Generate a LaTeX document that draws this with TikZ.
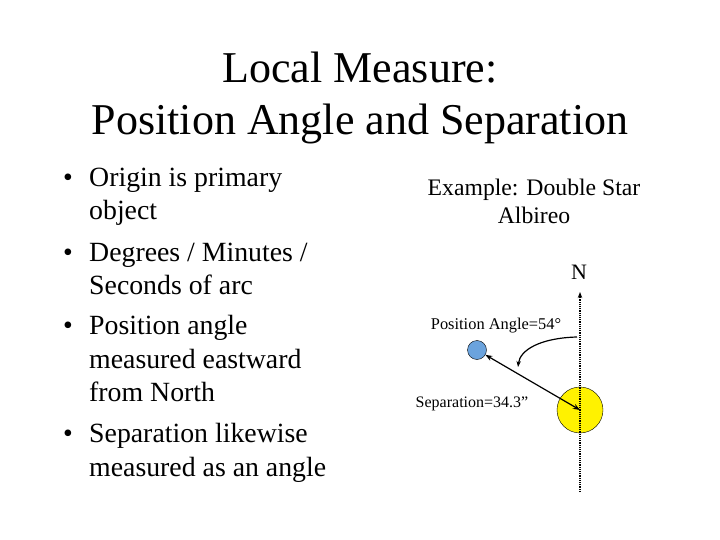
\documentclass[tikz,border=0pt]{standalone}
\usepackage{fontspec}
\setmainfont{Liberation Serif}
\usetikzlibrary{arrows.meta}
\begin{document}
\begin{tikzpicture}[x=1pt,y=-1pt,
  lbl/.style={inner sep=0pt,anchor=base},
  bul/.style={inner sep=0pt,anchor=base west,font=\fontsize{27.8}{32}\selectfont}]
\useasboundingbox (0,0) rectangle (720,540);
\node[lbl,font=\fontsize{44}{52}\selectfont] (t1) at (360,83) {Local Measure:};
\node[lbl,font=\fontsize{44}{52}\selectfont] (t2) at (360,135) {Position Angle and Separation};
\node[bul] (b1) at (63,187) {•};
\node[bul] (l1) at (89,187) {Origin is primary};
\node[bul] (l2) at (89,220) {object};
\node[bul] (b2) at (63,261) {•};
\node[bul] (l3) at (89,261) {Degrees / Minutes /};
\node[bul] (l4) at (89,294) {Seconds of arc};
\node[bul] (b3) at (63,334) {•};
\node[bul] (l5) at (89,334) {Position angle};
\node[bul] (l6) at (89,368) {measured eastward};
\node[bul] (l7) at (89,401) {from North};
\node[bul] (b4) at (63,442) {•};
\node[bul] (l8) at (89,442) {Separation likewise};
\node[bul] (l9) at (89,476) {measured as an angle};
\node[lbl,font=\fontsize{23.7}{28}\selectfont] (e1) at (534,196) {Example: Double Star};
\node[lbl,font=\fontsize{23.7}{28}\selectfont] (e2) at (534,223) {Albireo};
\node[lbl,font=\fontsize{22}{26}\selectfont] (N) at (579,279) {N};
\node[lbl,font=\fontsize{16.4}{19}\selectfont] (pa) at (496,329) {Position Angle=54°};
\node[lbl,font=\fontsize{16}{19}\selectfont] (sep) at (472,407) {Separation=34.3\symbol{34}};
\node[circle,draw,fill=yellow,minimum size=46pt,inner sep=0pt] (Y) at (580,410) {};
\node[circle,draw,fill=cyan!60!blue!60,minimum size=19pt,inner sep=0pt] (B) at (477,350) {};
\coordinate (top) at (580,292);
\coordinate (bot) at (580,492);
\draw[densely dotted,line width=1.2pt,-{Stealth[length=6pt]}] (bot) -- (top);
\draw[line width=1.2pt,{Stealth[length=7pt]}-{Stealth[length=7pt]}] (B.-30) -- (Y.center);
\coordinate (a0) at (577,337);
\coordinate (a1) at (518,367);
\draw[line width=1.2pt,-{Stealth[length=6pt]}] (a0) .. controls (540,338) and (520,350) .. (a1);
\end{tikzpicture}
\end{document}
